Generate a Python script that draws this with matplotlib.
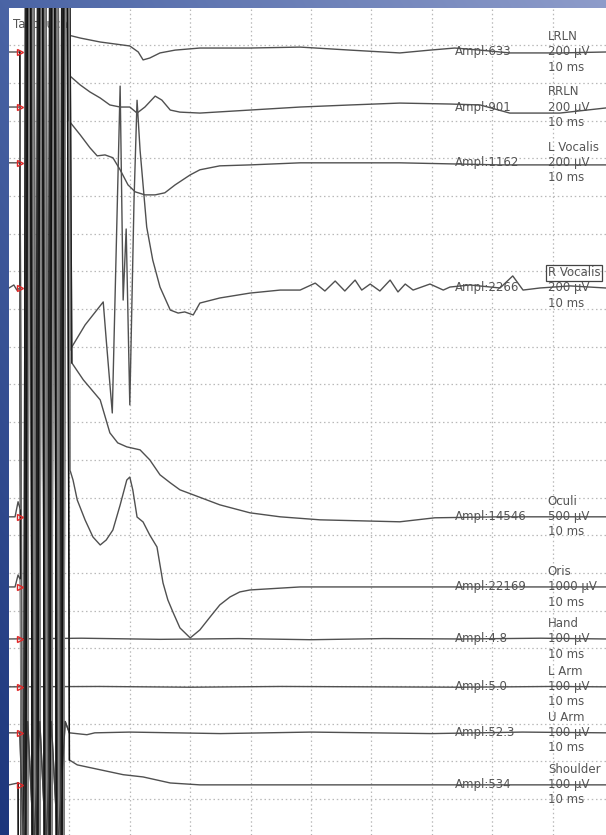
import numpy as np
import matplotlib
matplotlib.use("Agg")
import matplotlib.pyplot as plt

# ---------------- data ----------------
channels = ["LRLN", "RRLN", "L Vocalis", "R Vocalis", "Oculi", "Oris",
            "Hand", "L Arm", "U Arm", "Shoulder"]
scales_uV = [200, 200, 200, 200, 500, 1000, 100, 100, 100, 100]
sweep_ms = 10
ampl_text = ["633", "901", "1162", "2266", "14546", "22169", "4.8", "5.0", "52.3", "534"]
patient = "Tacbouchi"

# pre-stimulus samples (ms, µV)
pre_t = {
    "LRLN": [0, 1.8], "RRLN": [0, 1.8], "L Vocalis": [0, 1.8],
    "R Vocalis": [0, 0.8, 1.3, 1.8],
    "Oculi": [0, 1.0, 1.5, 1.9], "Oris": [0, 1.0, 1.5, 1.9],
    "Hand": [], "L Arm": [], "U Arm": [0, 1.8], "Shoulder": [0, 1.5],
}
pre_v = {
    "LRLN": [0, 0], "RRLN": [0, 0], "L Vocalis": [0, 0],
    "R Vocalis": [0, 16, -11, 0],
    "Oculi": [0, 0, 200, 90], "Oris": [0, 0, 318, 185],
    "Hand": [], "L Arm": [], "U Arm": [0, 0], "Shoulder": [0, 5],
}

# stimulus artifact: swing times (ms) and swing size (divisions, + = up)
art_t = [2.2, 3.2, 4.2, 5.2, 6.2, 7.2, 8.2, 9.2]
art_div = [-40, 40, -40, 40, -40, 40, -40, 40]
art_shift = {"LRLN": 0.0, "RRLN": 0.5, "L Vocalis": 0.08, "R Vocalis": 0.56,
             "Oculi": 0.04, "Oris": 0.45, "Shoulder": 0.12}
uarm_art_t = [2.4, 3.1, 4.1, 5.1, 6.1, 7.0, 8.1, 9.3]
uarm_art_v = [-300, 30, -300, 30, -300, 30, -300, 30]

# post-stimulus samples (ms, µV)
post_t = {
    "LRLN": [9.8, 11.8, 15.1, 20.0, 21.4, 22.2, 23.3, 25.0, 27.5, 31.6, 39.9, 48.2,
             56.5, 64.7, 69.7, 73.8, 78.0, 82.9, 91.2, 98.8],
    "RRLN": [9.9, 11.8, 13.4, 15.1, 16.7, 18.4, 20.0, 21.2, 22.5, 24.2, 25.3, 26.7,
             28.3, 31.6, 39.9, 48.2, 56.5, 64.7, 73.0, 78.0, 82.9, 91.2, 98.8],
    "L Vocalis": [9.8, 11.8, 13.4, 14.6, 15.9, 17.2, 18.4, 19.7, 20.9, 22.5, 24.2,
                  25.8, 27.5, 30.0, 31.6, 34.9, 39.9, 48.2, 64.7, 81.3, 98.8],
    "R Vocalis": [10.1, 12.6, 15.6, 16.1, 17.1, 18.4, 18.9, 19.4, 20.0, 20.7, 21.2,
                  21.7, 22.8, 23.8, 25.0, 26.7, 28.0, 29.1, 30.5, 31.6, 34.9, 39.9,
                  44.9, 48.2, 50.7, 52.3, 54.0, 55.6, 57.3, 58.4, 59.8, 61.4, 63.1,
                  64.4, 65.6, 66.9, 69.7, 71.9, 73.0, 76.3, 81.3, 83.4, 85.1, 87.9,
                  92.9, 98.8],
    "Oculi": [10.4, 12.3, 15.1, 16.7, 18.0, 19.5, 21.7, 23.3, 25.0, 26.7, 28.3, 30.5,
              34.9, 39.9, 44.9, 51.5, 64.7, 70.5, 81.3, 98.8],
    "Oris": [10.1, 10.6, 11.3, 12.6, 13.9, 15.1, 16.1, 17.2, 18.4, 19.5, 20.0, 20.5,
             21.2, 22.2, 23.3, 24.5, 25.5, 26.3, 27.2, 28.3, 30.0, 31.6, 33.3, 34.9,
             36.6, 38.2, 39.9, 48.2, 98.8],
    "Hand": [0, 12, 25, 38, 50, 62, 75, 88, 98.8],
    "L Arm": [0, 15, 30, 45, 60, 75, 90, 98.8],
    "U Arm": [10.0, 12.9, 14.2, 20.0, 35.0, 50.0, 70.0, 85.0, 98.8],
    "Shoulder": [10.0, 11.3, 15.1, 18.9, 22.2, 26.7, 31.6, 39.9, 98.8],
}
post_v = {
    "LRLN": [90, 74, 53, 32, 0, -42, -32, -5, 10, 21, 21, 26, 10, -5, 10, 21, 10, -5,
             -5, 0],
    "RRLN": [170, 117, 80, 48, 11, 0, 0, -32, 0, 58, 37, -16, -27, -32, -16, 0, 11,
             21, 16, 11, -32, -32, -5],
    "L Vocalis": [228, 148, 80, 37, 42, 27, -37, -117, -154, -170, -170, -159, -117,
                  -64, -37, -16, -11, 0, 0, -11, -11],
    "R Vocalis": [-329, -196, -74, -276, -663, 1071, -64, 313, -620, 466, 996, 731,
                  323, 148, 5, -117, -133, -127, -143, -80, -53, -27, -11, -11, 26,
                  -16, 37, -16, 42, -11, 21, -16, 42, -21, 21, -11, 21, -11, 5, 16, 0,
                  64, -11, 0, 11, 0],
    "Oculi": [2042, 1817, 1551, 1114, 981, 928, 888, 756, 557, 451, 358, 292, 159, 53,
              0, -40, -66, -13, 0, 0],
    "Oris": [3100, 2836, 2306, 1776, 1325, 1113, 1246, 1511, 2173, 2836, 2915, 2571,
             1855, 1723, 1378, 1060, 106, -345, -689, -1087, -1352, -1140, -795, -477,
             -265, -133, -80, 0, 0],
    "Hand": [0, 2, -1, 1, -2, 1, 0, 2, 0],
    "L Arm": [0, 1, -1, 1, 0, -1, 1, 0],
    "U Arm": [0, -5, 0, 2, -2, 2, -2, 2, 0],
    "Shoulder": [66, 53, 40, 27, 21, 5, 0, 0, 0],
}

# ---------------- layout ----------------
W, H = 606, 835
baseline_div = [1.18, 2.64, 4.12, 7.44, 13.51, 15.37, 16.75, 18.02, 19.24, 20.62]
x_max_ms = 98.84
y_top, y_bot = 0.013, 21.95
trace_col = "#505050"
text_col = "#555555"
grid_col = "#b9b9b9"
art_cols = ["#111111", "#777777", "#3a3a3a", "#666666", "#222222", "#8a8a8a", "#444444"]

fig = plt.figure(figsize=(W / 100, H / 100), dpi=100)

# blue gradient frame
bg = fig.add_axes([0, 0, 1, 1])
bg.axis("off")
yy, xx = np.mgrid[0:1:H * 1j, 0:1:W * 1j]
TL = np.array([0x4a, 0x64, 0xa5]) / 255
TR = np.array([0x8e, 0x9c, 0xca]) / 255
BL = np.array([0x1c, 0x36, 0x7c]) / 255
img = TL + (TR - TL) * xx[..., None] + (BL - TL) * yy[..., None]
bg.imshow(np.clip(img, 0, 1), aspect="auto", interpolation="bilinear")

ax = fig.add_axes([9 / W, 0, (W - 9) / W, (H - 8) / H])
ax.set_facecolor("white")
ax.set_xlim(0, x_max_ms)
ax.set_ylim(y_bot, y_top)
for s in ax.spines.values():
    s.set_visible(False)
ax.set_xticks([])
ax.set_yticks([])

for k in range(1, 10):
    ax.axvline(k * sweep_ms, color=grid_col, lw=0.9, ls=(0, (1.2, 2.2)), zorder=0)
for k in range(1, 22):
    ax.axhline(k, color=grid_col, lw=0.9, ls=(0, (1.2, 2.2)), zorder=0)

ai = 0
for i, ch in enumerate(channels):
    base = baseline_div[i]
    sc = scales_uV[i]
    t_list = list(pre_t[ch])
    v_list = list(pre_v[ch])
    a_t, a_v = [], []
    if ch in art_shift:
        a_t = [t + art_shift[ch] for t in art_t]
        a_v = [d * sc for d in art_div]
    elif ch == "U Arm":
        a_t, a_v = list(uarm_art_t), list(uarm_art_v)
    t_all = np.array(t_list + a_t + post_t[ch], dtype=float)
    v_all = np.array(v_list + a_v + post_v[ch], dtype=float)
    y_all = base - v_all / sc
    ax.plot(t_all, y_all, color=trace_col, lw=1.0, zorder=3, solid_joinstyle="round")
    if a_t:
        n0 = len(t_list)
        n1 = n0 + len(a_t)
        sl = slice(max(n0 - 1, 0), n1 + 1)
        ax.plot(t_all[sl], y_all[sl], color=art_cols[ai % len(art_cols)], lw=1.0,
                zorder=4)
        ai += 1
    # red marker
    ax.plot([1.8], [base], marker=">", ms=4, color="#e02828", mfc="none", mew=1.0,
            zorder=5)
    # amplitude and channel labels
    ax.text(73.8, base, f"Ampl:{ampl_text[i]}", ha="left", va="center",
            fontsize=8.5, color=text_col, zorder=1)
    name_kw = {}
    if ch == "R Vocalis":
        name_kw["bbox"] = dict(boxstyle="square,pad=0.12", fc="none", ec="#444444",
                               lw=0.9)
    ax.text(89.2, base - 0.4, ch, ha="left", va="center", fontsize=8.5,
            color=text_col, zorder=1, **name_kw)
    ax.text(89.2, base, f"{sc} µV", ha="left", va="center", fontsize=8.5,
            color=text_col, zorder=1)
    ax.text(89.2, base + 0.4, f"{sweep_ms} ms", ha="left", va="center",
            fontsize=8.5, color=text_col, zorder=1)

ax.text(0.6, 0.46, patient, ha="left", va="center", fontsize=8.5, color=text_col,
        zorder=2)

fig.savefig("out.png", dpi=100)
